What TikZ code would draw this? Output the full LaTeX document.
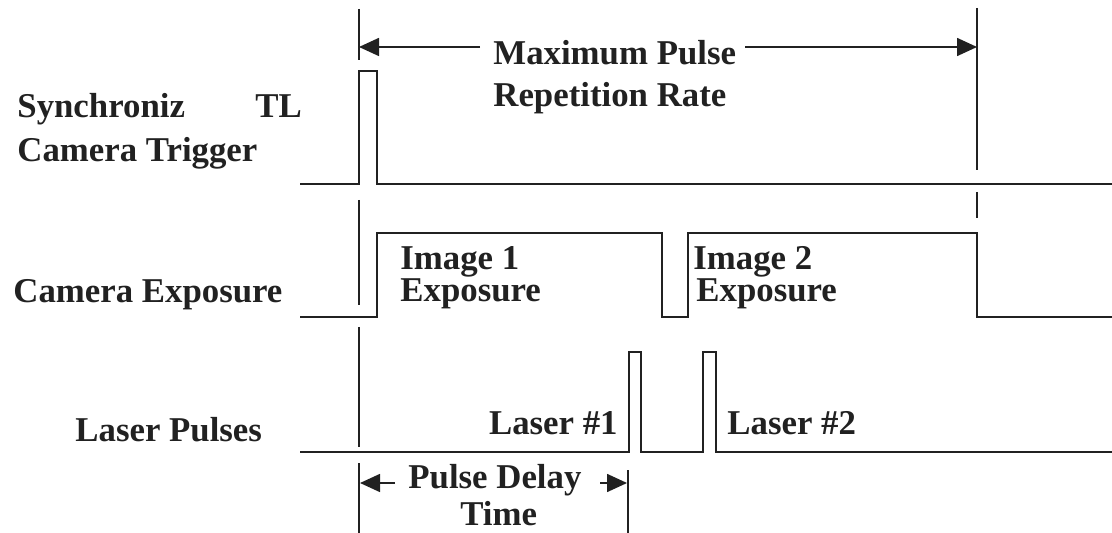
\documentclass[tikz,border=0pt]{standalone}
\usepackage{fontspec}
\setmainfont{Liberation Serif}
\usepackage{tikz}
\usetikzlibrary{arrows.meta}
\definecolor{ink}{gray}{0.13}
\tikzset{
  sig/.style={draw=ink,line width=1.2pt},
  guide/.style={draw=ink,line width=1pt},
  dimarrow/.style={draw=ink,line width=0.8pt,-{Triangle[length=10pt,width=9pt]}},
  lbl/.style={text=ink,inner sep=0pt,anchor=base west,font=\bfseries\fontsize{17.4}{20}\selectfont},
}
\begin{document}
\begin{tikzpicture}[x=0.5pt,y=-0.5pt]
    \useasboundingbox (0,0) rectangle (1112,533);
    \draw[sig] (300,184) -- (359,184) -- (359,71) -- (377,71) -- (377,184) -- (1112,184);
    \draw[sig] (300,317) -- (377,317) -- (377,233) -- (662,233) -- (662,317) -- (688,317) -- (688,233) -- (977,233) -- (977,317) -- (1112,317);
    \draw[sig] (300,452) -- (629,452) -- (629,352) -- (641,352) -- (641,452) -- (703,452) -- (703,352) -- (716,352) -- (716,452) -- (1112,452);
    \draw[guide] (359,9) -- (359,60);
    \draw[guide] (359,200) -- (359,305);
    \draw[guide] (359,327) -- (359,447);
    \draw[guide] (359,463) -- (359,533);
    \draw[guide] (977,8) -- (977,170);
    \draw[guide] (977,192) -- (977,218);
    \draw[guide] (628,470) -- (628,533);
    \coordinate (maxl) at (359,47);
    \coordinate (maxr) at (977,47);
    \coordinate (maxla) at (480,47);
    \coordinate (maxra) at (745,47);
    \coordinate (dell) at (360,483);
    \coordinate (delr) at (627,483);
    \coordinate (della) at (395,483);
    \coordinate (delra) at (600,483);
    \draw[dimarrow] (maxla) -- (maxl);
    \draw[dimarrow] (maxra) -- (maxr);
    \draw[dimarrow] (della) -- (dell);
    \draw[dimarrow] (delra) -- (delr);
    \node[lbl] (maxtop) at (493,65) {Maximum Pulse};
    \node[lbl] (maxbot) at (493,107) {Repetition Rate};
    \node[lbl] (deltop) at (408,488) {Pulse Delay};
    \node[lbl] (delbot) at (460,525) {Time};
    \node[lbl] (sync) at (17,118) {Synchroniz};
    \node[lbl] (synctl) at (255,118) {TL};
    \node[lbl] (trig) at (17,162) {Camera Trigger};
    \node[lbl] (camexp) at (13,303) {Camera Exposure};
    \node[lbl] (lasers) at (75,442) {Laser Pulses};
    \node[lbl] (imgone) at (400,270) {Image 1};
    \node[lbl] (expone) at (400,302) {Exposure};
    \node[lbl] (imgtwo) at (693,270) {Image 2};
    \node[lbl] (exptwo) at (696,302) {Exposure};
    \node[lbl,anchor=base east] (lsone) at (618,435) {Laser \#1};
    \node[lbl] (lstwo) at (727,435) {Laser \#2};
\end{tikzpicture}
\end{document}
